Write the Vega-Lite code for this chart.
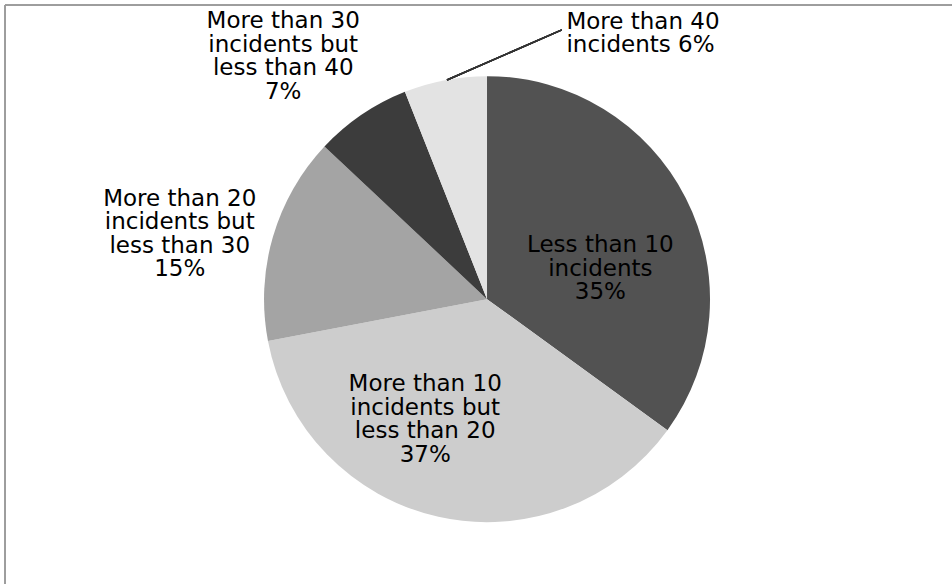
{
  "$schema": "https://vega.github.io/schema/vega-lite/v6.json",
  "width": 947,
  "height": 579,
  "padding": {"left": 5, "top": 5, "right": 0, "bottom": 0},
  "autosize": {"type": "none"},
  "background": "white",
  "config": {"view": {"stroke": null}},
  "data": {
    "values": [
      {"category": "Less than 10 incidents", "label": "Less than 10\nincidents\n35%", "pct": 35, "rank": 1},
      {"category": "More than 10 incidents but less than 20", "label": "More than 10\nincidents but\nless than 20\n37%", "pct": 37, "rank": 2},
      {"category": "More than 20 incidents but less than 30", "label": "More than 20\nincidents but\nless than 30\n15%", "pct": 15, "rank": 3},
      {"category": "More than 30 incidents but less than 40", "label": "More than 30\nincidents but\nless than 40\n7%", "pct": 7, "rank": 4},
      {"category": "More than 40 incidents", "label": "More than 40\nincidents 6%", "pct": 6, "rank": 5}
    ]
  },
  "encoding": {
    "theta": {"field": "pct", "type": "quantitative", "stack": true},
    "order": {"field": "rank", "type": "quantitative"},
    "x": {"datum": 0.509, "type": "quantitative", "scale": {"domain": [0, 1], "nice": false, "zero": false}, "axis": null},
    "y": {"datum": 0.492, "type": "quantitative", "scale": {"domain": [0, 1], "nice": false, "zero": false}, "axis": null}
  },
  "layer": [
    {
      "mark": {"type": "rule", "stroke": "#9a9a9a", "strokeWidth": 1},
      "encoding": {"theta": null, "order": null, "y": null, "x": {"datum": 0, "type": "quantitative"}}
    },
    {
      "mark": {"type": "rule", "stroke": "#9a9a9a", "strokeWidth": 1},
      "encoding": {"theta": null, "order": null, "x": null, "y": {"datum": 1, "type": "quantitative"}}
    },
    {
      "mark": {"type": "arc", "radius": 223, "stroke": null},
      "encoding": {
        "color": {
          "field": "category", "type": "nominal", "legend": null,
          "scale": {
            "domain": ["Less than 10 incidents", "More than 10 incidents but less than 20", "More than 20 incidents but less than 30", "More than 30 incidents but less than 40", "More than 40 incidents"],
            "range": ["#525252", "#cdcdcd", "#a4a4a4", "#3c3c3c", "#e3e3e3"]
          }
        }
      }
    },
    {
      "mark": {"type": "rule", "stroke": "#333333", "strokeWidth": 1.5},
      "encoding": {
        "theta": null, "order": null,
        "x": {"datum": 0.4667, "type": "quantitative"},
        "y": {"datum": 0.8705, "type": "quantitative"},
        "x2": {"datum": 0.588},
        "y2": {"datum": 0.957}
      }
    },
    {
      "mark": {"type": "text", "radius": 125, "dx": 2, "dy": 3, "align": "center", "baseline": "middle", "lineBreak": "\n", "font": "DejaVu Sans", "fontSize": 23, "lineHeight": 23.5, "color": "black"},
      "encoding": {"text": {"condition": {"test": "datum.rank === 1", "field": "label"}, "value": ""}}
    },
    {
      "mark": {"type": "text", "radius": 123, "dx": -35, "dy": -35, "align": "center", "baseline": "middle", "lineBreak": "\n", "font": "DejaVu Sans", "fontSize": 23, "lineHeight": 23.5, "color": "black"},
      "encoding": {"text": {"condition": {"test": "datum.rank === 2", "field": "label"}, "value": ""}}
    },
    {
      "mark": {"type": "text", "radius": 320, "dx": 0, "dy": -11, "align": "center", "baseline": "middle", "lineBreak": "\n", "font": "DejaVu Sans", "fontSize": 23, "lineHeight": 23.5, "color": "black"},
      "encoding": {"text": {"condition": {"test": "datum.rank === 3", "field": "label"}, "value": ""}}
    },
    {
      "mark": {"type": "text", "radius": 295, "dx": -38, "dy": -34, "align": "center", "baseline": "middle", "lineBreak": "\n", "font": "DejaVu Sans", "fontSize": 23, "lineHeight": 23.5, "color": "black"},
      "encoding": {"text": {"condition": {"test": "datum.rank === 4", "field": "label"}, "value": ""}}
    },
    {
      "mark": {"type": "text", "radius": 270, "dx": 130, "dy": -12, "align": "left", "baseline": "middle", "lineBreak": "\n", "font": "DejaVu Sans", "fontSize": 23, "lineHeight": 23.5, "color": "black"},
      "encoding": {"text": {"condition": {"test": "datum.rank === 5", "field": "label"}, "value": ""}}
    }
  ]
}
